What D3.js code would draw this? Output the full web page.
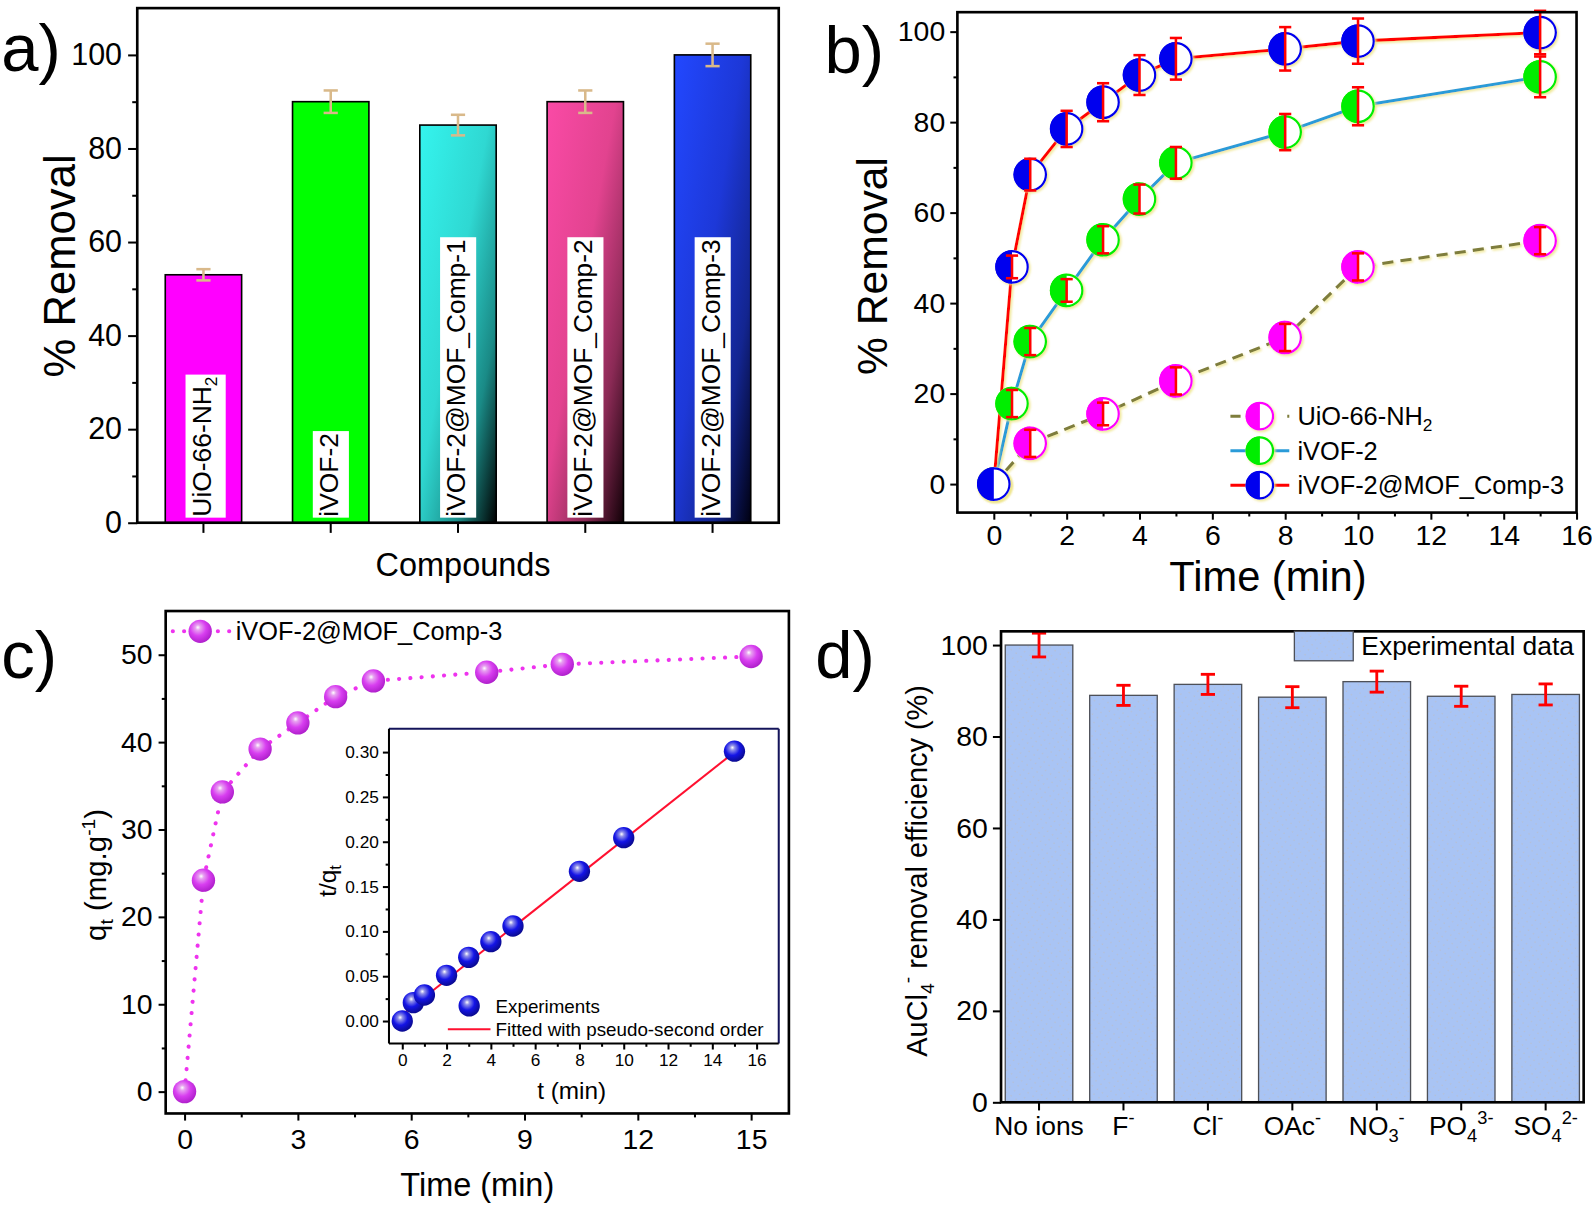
<!DOCTYPE html>
<html>
<head>
<meta charset="utf-8">
<script src="https://cdn.jsdelivr.net/npm/d3@7"></script>
<style>
  body { margin: 0; background: #fff; }
  svg { display: block; }
</style>
</head>
<body>
<svg id="fig"></svg>
<script>
const FONT = "'Liberation Sans', Arial, sans-serif";

// panel a - removal by compound
const aNames = ["UiO-66-NH2", "iVOF-2", "iVOF-2@MOF_Comp-1", "iVOF-2@MOF_Comp-2", "iVOF-2@MOF_Comp-3"];
const aValues = [53, 90, 85, 90, 100];
const aErrors = [1.2, 2.4, 2.2, 2.4, 2.4];
const aTicks = [0, 20, 40, 60, 80, 100];

// panel b - kinetics of three materials
const bUioTime = [0, 1, 3, 5, 8, 10, 15];
const bUioVal = [0, 9, 15.5, 22.8, 32.4, 48, 53.8];
const bUioErr = [0, 3, 2.5, 3, 3, 3, 3];
const bTime = [0, 0.5, 1, 2, 3, 4, 5, 8, 10, 15];
const bIvofVal = [0, 17.8, 31.5, 42.8, 54, 63, 71, 77.8, 83.5, 90];
const bIvofErr = [0, 3, 3, 2.5, 3, 3.2, 3.5, 4, 4.2, 4.5];
const bCompVal = [0, 48, 68.4, 78.5, 84.4, 90.4, 94, 96.2, 97.9, 99.8];
const bCompErr = [0, 2.5, 3.5, 4, 4.2, 4.4, 4.6, 4.8, 5, 4.8];
const bXTicks = [0, 2, 4, 6, 8, 10, 12, 14, 16];
const bYTicks = [0, 20, 40, 60, 80, 100];

// panel c - adsorption capacity and pseudo-second order inset
const cTime = [0, 0.5, 1, 2, 3, 4, 5, 8, 10, 15];
const cQt = [0, 24.2, 34.3, 39.2, 42.2, 45.2, 47, 48, 48.9, 49.8];
const cTq = [0, 0.0205, 0.029, 0.051, 0.071, 0.0885, 0.106, 0.167, 0.2045, 0.301];
const cFitT = [0, 15];
const cFitY = [0.007, 0.300];
const cXTicks = [0, 3, 6, 9, 12, 15];
const cYTicks = [0, 10, 20, 30, 40, 50];
const insXTicks = [0, 2, 4, 6, 8, 10, 12, 14, 16];
const insYTicks = [0, 0.05, 0.10, 0.15, 0.20, 0.25, 0.30];

// panel d - competing ions
const dIonBase = ["No ions", "F", "Cl", "OAc", "NO", "PO", "SO"];
const dIonSub = ["", "", "", "", "3", "4", "4"];
const dIonSup = ["", "-", "-", "-", "-", "3-", "2-"];
const dValues = [100, 89, 91.4, 88.6, 92, 88.8, 89.2];
const dErrors = [2.6, 2.2, 2.2, 2.3, 2.3, 2.2, 2.3];
const dYTicks = [0, 20, 40, 60, 80, 100];

const svg = d3.select("#fig")
  .attr("width", 1592).attr("height", 1217)
  .attr("viewBox", "0 0 1568 1199")
  .style("font-family", FONT);

const defs = svg.append("defs");

function diagGradient(id, stops) {
  const g = defs.append("linearGradient").attr("id", id)
    .attr("x1", 0).attr("y1", 0).attr("x2", 1).attr("y2", 1);
  stops.forEach(s => g.append("stop").attr("offset", s[0]).attr("stop-color", s[1]));
}
diagGradient("gCyan", [[0, "#34f4ee"], [0.45, "#2fd8d2"], [0.75, "#1a8a86"], [1, "#000000"]]);
diagGradient("gPink", [[0, "#fa4aa6"], [0.45, "#e2438f"], [0.75, "#8a2a55"], [1, "#100006"]]);
diagGradient("gBlue", [[0, "#2248ff"], [0.45, "#1d38d8"], [0.75, "#132590"], [1, "#000010"]]);

function sphere(id, c0, c1, c2) {
  const g = defs.append("radialGradient").attr("id", id)
    .attr("cx", 0.42).attr("cy", 0.38).attr("r", 0.62).attr("fx", 0.4).attr("fy", 0.33);
  g.append("stop").attr("offset", 0).attr("stop-color", "#ffffff");
  g.append("stop").attr("offset", 0.18).attr("stop-color", c0);
  g.append("stop").attr("offset", 0.55).attr("stop-color", c1);
  g.append("stop").attr("offset", 1).attr("stop-color", c2);
}
sphere("sMag", "#e7a0f0", "#d83ef0", "#b020cc");
sphere("sBlue", "#9090e8", "#1414e6", "#0a0a90");

const pat = defs.append("pattern").attr("id", "hatch")
  .attr("width", 6).attr("height", 6).attr("patternUnits", "userSpaceOnUse")
  .attr("patternTransform", "rotate(35)");
pat.append("rect").attr("width", 6).attr("height", 6).attr("fill", "#a9c4f4");
pat.append("circle").attr("cx", 1).attr("cy", 1).attr("r", 0.6).attr("fill", "#c9b59a").attr("opacity", 0.6);

defs.append("filter").attr("id", "glow").attr("x", -0.2).attr("y", -0.2).attr("width", 1.4).attr("height", 1.4)
  .append("feDropShadow").attr("dx", 1.5).attr("dy", 1.5).attr("stdDeviation", 1.2)
  .attr("flood-color", "#eee58a").attr("flood-opacity", 0.9);

function drawAxis(parent, axisFn, scale, pos, majors, minors, size, pad, fontSize, fmt) {
  const g = parent.append("g").attr("transform", pos);
  if (minors) {
    g.append("g").call(axisFn(scale).tickValues(minors).tickSize(size * 0.55).tickFormat(""));
  }
  const m = g.append("g").call(axisFn(scale).tickValues(majors).tickSize(size).tickPadding(pad)
    .tickFormat(fmt || d3.format("")));
  g.selectAll(".domain").remove();
  g.selectAll("line").attr("stroke", "#000").attr("stroke-width", 2);
  m.selectAll("text").attr("font-size", fontSize).attr("font-family", FONT).attr("fill", "#000");
  return m;
}

function frame(parent, x0, y0, x1, y1, w) {
  parent.append("rect").attr("x", x0).attr("y", y0).attr("width", x1 - x0).attr("height", y1 - y0)
    .attr("fill", "none").attr("stroke", "#000").attr("stroke-width", w || 2.6);
}

function panelLabel(txt, x, y) {
  svg.append("text").attr("x", x).attr("y", y).attr("font-size", 66).attr("fill", "#000").text(txt);
}

function errBar(parent, x, y0, y1, half, color, w) {
  const g = parent.append("g").attr("stroke", color).attr("stroke-width", w || 2.5);
  g.append("line").attr("x1", x).attr("x2", x).attr("y1", y0).attr("y2", y1);
  g.append("line").attr("x1", x - half).attr("x2", x + half).attr("y1", y0).attr("y2", y0);
  g.append("line").attr("x1", x - half).attr("x2", x + half).attr("y1", y1).attr("y2", y1);
}

// ---------------- panel a ----------------
{
  const L = 135, R = 767, T = 8, B = 515;
  const pa = svg.append("g");
  const x = d3.scaleBand().domain(aNames).range([L, R]).paddingInner(0.4).paddingOuter(0.22);
  const y = d3.scaleLinear().domain([0, 110]).range([B, T]);
  const fills = ["#ff00ff", "#00ff00", "url(#gCyan)", "url(#gPink)", "url(#gBlue)"];

  pa.selectAll("rect.bar").data(aNames).join("rect")
    .attr("x", d => x(d)).attr("width", x.bandwidth())
    .attr("y", (d, i) => y(aValues[i])).attr("height", (d, i) => B - y(aValues[i]))
    .attr("fill", (d, i) => fills[i]).attr("stroke", "#000").attr("stroke-width", 1.6);

  aNames.forEach((d, i) => {
    const cx = x(d) + x.bandwidth() / 2;
    errBar(pa, cx, y(aValues[i] + aErrors[i]), y(aValues[i] - aErrors[i]), 7, "#d9b98a", 2.5);
    const lg = pa.append("g").attr("transform", `translate(${cx - 2},${B - 6}) rotate(-90)`);
    const t = lg.append("text").attr("x", 0).attr("y", 9).attr("font-size", 26).attr("fill", "#000");
    if (d === "UiO-66-NH2") {
      t.append("tspan").text("UiO-66-NH");
      t.append("tspan").attr("font-size", 17).attr("dy", 6).text("2");
    } else {
      t.text(d);
    }
    const bb = t.node().getBBox();
    lg.insert("rect", "text").attr("x", bb.x - 1).attr("y", bb.y - 1).attr("width", bb.width + 3)
      .attr("height", bb.height + 6).attr("fill", "#fff");
  });

  drawAxis(pa, d3.axisLeft, y, `translate(${L},0)`, aTicks, [10, 30, 50, 70, 90], 9, 6, 30);
  drawAxis(pa, d3.axisBottom, x, `translate(0,${B})`, aNames, null, 10, 4, 1, () => "");
  frame(pa, L, T, R, B);

  pa.append("text").attr("transform", `translate(74,262) rotate(-90)`).attr("text-anchor", "middle")
    .attr("font-size", 43).text("% Removal");
  pa.append("text").attr("x", 456).attr("y", 567).attr("text-anchor", "middle")
    .attr("font-size", 32).text("Compounds");
}
panelLabel("a)", 1, 70);

// ---------------- panel b ----------------
{
  const L = 943, R = 1553, T = 12, B = 505;
  const pb = svg.append("g");
  const x = d3.scaleLinear().domain([-1, 16]).range([L, R]);
  const y = d3.scaleLinear().domain([-6.3, 104.3]).range([B, T]);
  const line = d3.line().x(d => x(d[0])).y(d => y(d[1]));

  const series = [
    { name: "UiO-66-NH2", t: bUioTime, v: bUioVal, e: bUioErr, line: "#7e7d3c", fill: "#ff00ff", dash: "11,7" },
    { name: "iVOF-2", t: bTime, v: bIvofVal, e: bIvofErr, line: "#2a9bd8", fill: "#00ee00", dash: null },
    { name: "iVOF-2@MOF_Comp-3", t: bTime, v: bCompVal, e: bCompErr, line: "#ff0000", fill: "#0000ee", dash: null }
  ];

  function halfMarker(parent, cx, cy, r, color) {
    const g = parent.append("g").attr("filter", "url(#glow)");
    g.append("circle").attr("cx", cx).attr("cy", cy).attr("r", r).attr("fill", "#fff");
    g.append("path")
      .attr("d", `M${cx},${cy - r} A${r},${r} 0 0 0 ${cx},${cy + r} Z`)
      .attr("fill", color);
    g.append("circle").attr("cx", cx).attr("cy", cy).attr("r", r - 1)
      .attr("fill", "none").attr("stroke", color).attr("stroke-width", 2.2);
  }

  series.forEach(s => {
    pb.append("path").datum(s.t.map((t, i) => [t, s.v[i]]))
      .attr("d", line).attr("fill", "none").attr("stroke", s.line).attr("stroke-width", 3)
      .attr("stroke-dasharray", s.dash).attr("filter", "url(#glow)");
  });
  series.forEach(s => {
    s.t.forEach((t, i) => {
      halfMarker(pb, x(t), y(s.v[i]), 16.5, s.fill);
      if (s.e[i] > 0) errBar(pb, x(t), y(s.v[i] + s.e[i]), y(s.v[i] - s.e[i]), 6, "#ff0000", 2.5);
    });
  });

  drawAxis(pb, d3.axisLeft, y, `translate(${L},0)`, bYTicks, [10, 30, 50, 70, 90], 7, 5, 28);
  drawAxis(pb, d3.axisBottom, x, `translate(0,${B})`, bXTicks, [1, 3, 5, 7, 9, 11, 13, 15], 7, 5, 28);
  frame(pb, L, T, R, B);

  // legend
  series.forEach((s, i) => {
    const ly = 410 + i * 34;
    pb.append("line").attr("x1", 1212).attr("x2", 1270).attr("y1", ly).attr("y2", ly)
      .attr("stroke", s.line).attr("stroke-width", 3).attr("stroke-dasharray", s.dash ? "10,18" : null);
    halfMarker(pb, 1241, ly, 14, s.fill);
    const t = pb.append("text").attr("x", 1278).attr("y", ly + 9).attr("font-size", 25);
    if (s.name === "UiO-66-NH2") {
      t.append("tspan").text("UiO-66-NH");
      t.append("tspan").attr("font-size", 17).attr("dy", 6).text("2");
    } else t.text(s.name);
  });

  pb.append("text").attr("transform", `translate(874,262) rotate(-90)`).attr("text-anchor", "middle")
    .attr("font-size", 42).text("% Removal");
  pb.append("text").attr("x", 1249).attr("y", 582).attr("text-anchor", "middle")
    .attr("font-size", 41).text("Time (min)");
}
panelLabel("b)", 812, 72);

// ---------------- panel c ----------------
{
  const L = 163, R = 777, T = 602, B = 1097;
  const pc = svg.append("g");
  const x = d3.scaleLinear().domain([-0.5, 16]).range([L, R]);
  const y = d3.scaleLinear().domain([-2.5, 55]).range([B, T]);
  const line = d3.line().x(d => x(d[0])).y(d => y(d[1]));

  pc.append("path").datum(cTime.map((t, i) => [t, cQt[i]]))
    .attr("d", line).attr("fill", "none").attr("stroke", "#ee33ee").attr("stroke-width", 4)
    .attr("stroke-linecap", "round").attr("stroke-dasharray", "0.1,11");
  pc.selectAll("circle.pt").data(cTime).join("circle")
    .attr("cx", d => x(d)).attr("cy", (d, i) => y(cQt[i])).attr("r", 11.5).attr("fill", "url(#sMag)");

  drawAxis(pc, d3.axisLeft, y, `translate(${L},0)`, cYTicks, [5, 15, 25, 35, 45], 7, 6, 28);
  drawAxis(pc, d3.axisBottom, x, `translate(0,${B})`, cXTicks, [1.5, 4.5, 7.5, 10.5, 13.5], 7, 8, 28);
  frame(pc, L, T, R, B);

  // legend
  pc.append("line").attr("x1", 170).attr("x2", 226).attr("y1", 622).attr("y2", 622)
    .attr("stroke", "#ee33ee").attr("stroke-width", 4).attr("stroke-linecap", "round")
    .attr("stroke-dasharray", "0.1,11");
  pc.append("circle").attr("cx", 197).attr("cy", 622).attr("r", 11.5).attr("fill", "url(#sMag)");
  pc.append("text").attr("x", 232).attr("y", 631).attr("font-size", 25).text("iVOF-2@MOF_Comp-3");

  const qt = pc.append("text").attr("transform", `translate(104,862) rotate(-90)`)
    .attr("text-anchor", "middle").attr("font-size", 29);
  qt.append("tspan").text("q");
  qt.append("tspan").attr("font-size", 19).attr("dy", 7).text("t");
  qt.append("tspan").attr("dy", -7).text(" (mg.g");
  qt.append("tspan").attr("font-size", 19).attr("dy", -11).text("-1");
  qt.append("tspan").attr("dy", 11).text(")");
  pc.append("text").attr("x", 470).attr("y", 1178).attr("text-anchor", "middle")
    .attr("font-size", 32).text("Time (min)");

  // inset
  const iL = 383, iR = 767, iT = 718, iB = 1028;
  const ix = d3.scaleLinear().domain([-0.6, 17]).range([iL, iR]);
  const iy = d3.scaleLinear().domain([-0.025, 0.326]).range([iB, iT]);
  pc.append("rect").attr("x", iL).attr("y", iT).attr("width", iR - iL).attr("height", iB - iT).attr("fill", "#fff");
  pc.append("line")
    .attr("x1", ix(cFitT[0])).attr("y1", iy(cFitY[0])).attr("x2", ix(cFitT[1])).attr("y2", iy(cFitY[1]))
    .attr("stroke", "#ff1030").attr("stroke-width", 2);
  pc.selectAll("circle.ins").data(cTime).join("circle")
    .attr("cx", d => ix(d)).attr("cy", (d, i) => iy(cTq[i])).attr("r", 10.5).attr("fill", "url(#sBlue)");

  drawAxis(pc, d3.axisLeft, iy, `translate(${iL},0)`, insYTicks, [0.025, 0.075, 0.125, 0.175, 0.225, 0.275], 6, 4, 17, d3.format(".2f"));
  drawAxis(pc, d3.axisBottom, ix, `translate(0,${iB})`, insXTicks, [1, 3, 5, 7, 9, 11, 13, 15], 6, 4, 17);
  pc.append("line").attr("x1", iL).attr("x2", iR).attr("y1", iT).attr("y2", iT).attr("stroke", "#14145a").attr("stroke-width", 2);
  pc.append("line").attr("x1", iR).attr("x2", iR).attr("y1", iT).attr("y2", iB).attr("stroke", "#14145a").attr("stroke-width", 2);
  pc.append("line").attr("x1", iL).attr("x2", iL).attr("y1", iT).attr("y2", iB).attr("stroke", "#000").attr("stroke-width", 2);
  pc.append("line").attr("x1", iL).attr("x2", iR).attr("y1", iB).attr("y2", iB).attr("stroke", "#000").attr("stroke-width", 2);

  pc.append("circle").attr("cx", 462).attr("cy", 991).attr("r", 10.5).attr("fill", "url(#sBlue)");
  pc.append("text").attr("x", 488).attr("y", 998).attr("font-size", 18.5).text("Experiments");
  pc.append("line").attr("x1", 441).attr("x2", 483).attr("y1", 1014).attr("y2", 1014)
    .attr("stroke", "#ff1030").attr("stroke-width", 2);
  pc.append("text").attr("x", 488).attr("y", 1021).attr("font-size", 18.5).text("Fitted with pseudo-second order");

  const tq = pc.append("text").attr("transform", `translate(331,868) rotate(-90)`)
    .attr("text-anchor", "middle").attr("font-size", 24);
  tq.append("tspan").text("t/q");
  tq.append("tspan").attr("font-size", 16).attr("dy", 5).text("t");
  pc.append("text").attr("x", 563).attr("y", 1083).attr("text-anchor", "middle")
    .attr("font-size", 24).text("t (min)");
}
panelLabel("c)", 1, 668);

// ---------------- panel d ----------------
{
  const L = 986, R = 1560, T = 622, B = 1086;
  const pd = svg.append("g");
  const x = d3.scaleBand().domain(dIonBase).range([L, R]).paddingInner(0.2).paddingOuter(0.05);
  const y = d3.scaleLinear().domain([0, 103]).range([B, T]);

  pd.selectAll("rect.bar").data(dIonBase).join("rect")
    .attr("x", d => x(d)).attr("width", x.bandwidth())
    .attr("y", (d, i) => y(dValues[i])).attr("height", (d, i) => B - y(dValues[i]))
    .attr("fill", "url(#hatch)").attr("stroke", "#4d5058").attr("stroke-width", 1.3);

  dIonBase.forEach((d, i) => {
    const cx = x(d) + x.bandwidth() / 2;
    errBar(pd, cx, y(dValues[i] + dErrors[i]), y(dValues[i] - dErrors[i]), 7, "#ff0000", 2.8);
  });

  drawAxis(pd, d3.axisLeft, y, `translate(${L},0)`, dYTicks, null, 8, 5, 28);
  const xa = drawAxis(pd, d3.axisBottom, x, `translate(0,${B})`, dIonBase, null, 8, 6, 26);
  xa.selectAll("text").each(function (d, i) {
    const t = d3.select(this).text("");
    t.append("tspan").text(dIonBase[i]);
    if (dIonSub[i]) t.append("tspan").attr("font-size", 18).attr("dy", 7).text(dIonSub[i]);
    if (dIonSup[i]) t.append("tspan").attr("font-size", 18).attr("dy", dIonSub[i] ? -18 : -11).text(dIonSup[i]);
  });
  frame(pd, L, T, R, B);

  // legend
  pd.append("rect").attr("x", 1275).attr("y", 622).attr("width", 58).attr("height", 29)
    .attr("fill", "url(#hatch)").attr("stroke", "#4d5058").attr("stroke-width", 1.3);
  pd.append("text").attr("x", 1341).attr("y", 645).attr("font-size", 26).text("Experimental data");

  const yt = pd.append("text").attr("transform", `translate(913,858) rotate(-90)`)
    .attr("text-anchor", "middle").attr("font-size", 28.5);
  yt.append("tspan").text("AuCl");
  yt.append("tspan").attr("font-size", 19).attr("dy", 7).text("4");
  yt.append("tspan").attr("font-size", 19).attr("dy", -20).text("-");
  yt.append("tspan").attr("dy", 13).text(" removal efficiency (%)");
}
panelLabel("d)", 803, 668);
</script>
</body>
</html>
